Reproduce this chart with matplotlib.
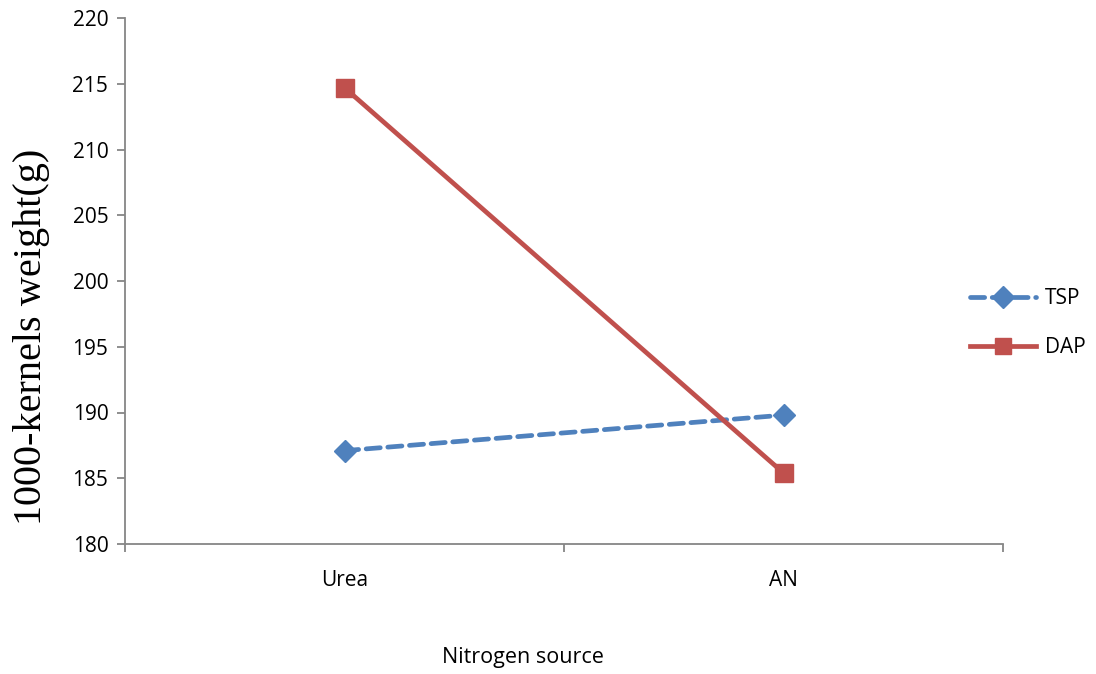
import matplotlib
matplotlib.use('Agg')
import matplotlib.pyplot as plt

# Dados
sources = ['Urea', 'AN']
tsp = [187.1, 189.8]
dap = [214.7, 185.4]
yticks = [180, 185, 190, 195, 200, 205, 210, 215, 220]

BLUE = '#4F81BD'
RED = '#C0504D'
AXIS = '#868686'
SANS = 'Open Sans'

fig = plt.figure(figsize=(10.96, 6.74), dpi=100)
ax = fig.add_axes([125 / 1096, 1 - 544 / 674, 878 / 1096, 526 / 674])

x = [i + 0.5 for i in range(len(sources))]
ax.plot(x, tsp, color=BLUE, linewidth=3.4, linestyle=(0, (3, 1.6)),
        dash_capstyle='round', marker='D', markersize=11, label='TSP')
ax.plot(x, dap, color=RED, linewidth=3.4, marker='s', markersize=13,
        label='DAP')

ax.set_xlim(0, len(sources))
ax.set_ylim(180, 220)
ax.set_yticks(yticks)
ax.set_xticks(range(len(sources) + 1))
ax.set_xticklabels([])
for xi, name in zip(x, sources):
    ax.text(xi, -0.05, name, transform=ax.get_xaxis_transform(),
            ha='center', va='top', fontsize=15, family=SANS)

for side in ['top', 'right']:
    ax.spines[side].set_visible(False)
for side in ['left', 'bottom']:
    ax.spines[side].set_color(AXIS)
    ax.spines[side].set_linewidth(1.3)
ax.tick_params(axis='both', direction='out', color=AXIS, length=6, width=1.3)
ax.tick_params(axis='y', labelsize=15, pad=6)
for lbl in ax.get_yticklabels():
    lbl.set_family(SANS)

fig.text(32 / 1096, 1 - 337 / 674, '1000-kernels weight(g)',
         family='Liberation Serif', fontsize=29, rotation=90,
         ha='center', va='center')
fig.text(523 / 1096, 1 - 658 / 674, 'Nitrogen source', ha='center',
         va='center', fontsize=15.5, family=SANS)

leg = fig.legend(loc='center left', bbox_to_anchor=(951 / 1096, 1 - 323 / 674),
                 frameon=False, prop={'family': SANS, 'size': 15},
                 handlelength=3.2, labelspacing=1.35, handletextpad=0.4)
for h in leg.legend_handles:
    h.set_markersize(11)

fig.savefig('out.png', dpi=100)
